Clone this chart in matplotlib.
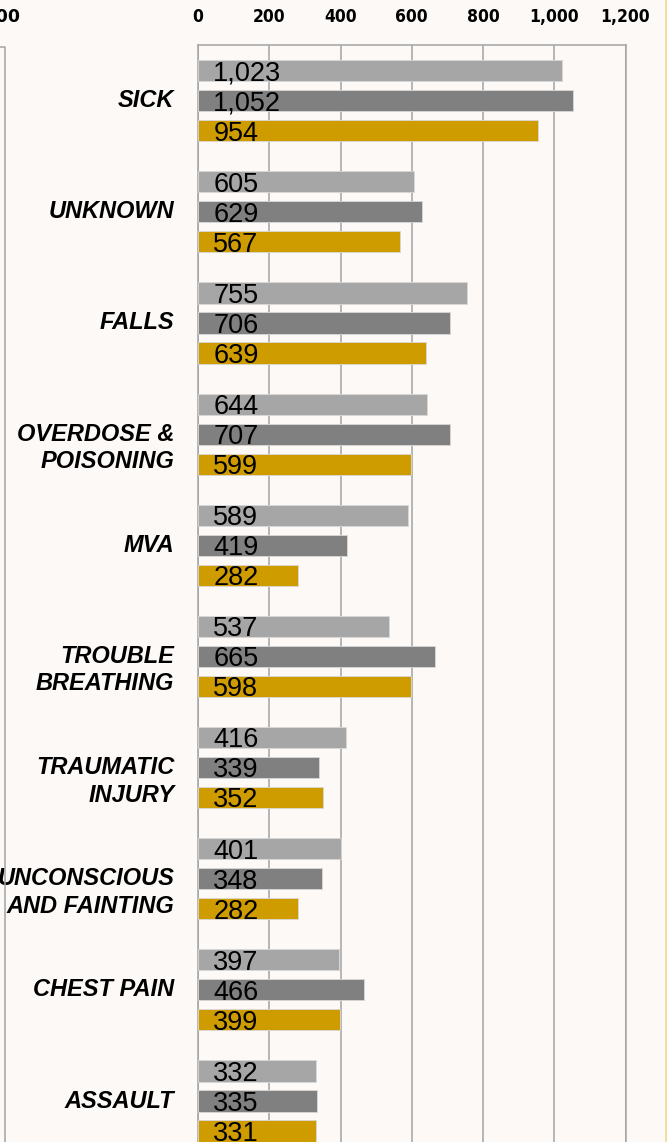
import numpy as np
import matplotlib
matplotlib.use('Agg')
import matplotlib.pyplot as plt
from matplotlib.lines import Line2D

categories = ['SICK', 'UNKNOWN', 'FALLS', 'OVERDOSE &\nPOISONING', 'MVA',
              'TROUBLE\nBREATHING', 'TRAUMATIC\nINJURY', 'UNCONSCIOUS\nAND FAINTING',
              'CHEST PAIN', 'ASSAULT']
series_a = [1023, 605, 755, 644, 589, 537, 416, 401, 397, 332]
series_b = [1052, 629, 706, 707, 419, 665, 339, 348, 466, 335]
series_c = [954, 567, 639, 599, 282, 598, 352, 282, 399, 331]
xticks = [0, 200, 400, 600, 800, 1000, 1200]
xtick_labels = ['0', '200', '400', '600', '800', '1,000', '1,200']

bg = '#fcf9f6'
colors = ['#a6a6a6', '#808080', '#cf9c00']
grid_col = '#a4a4a4'

W, H = 667, 1142
fig = plt.figure(figsize=(W / 100, H / 100), dpi=100, facecolor=bg)
ax = fig.add_axes([198 / W, 1 - 1156.6 / H, 427.5 / W, 1111.5 / H])
ax.set_facecolor(bg)

y = np.arange(len(categories))
bh = 0.19
offs = [-0.27, 0.0, 0.27]
for vals, off, col in zip([series_a, series_b, series_c], offs, colors):
    ax.barh(y + off, vals, height=bh, color=col, edgecolor='#d8d8d8', linewidth=0.6, zorder=3)
    for yi, v in zip(y, vals):
        ax.annotate(f'{v:,}', xy=(0, yi + off + bh / 2), xytext=(11, 0.5),
                    textcoords='offset points', ha='left', va='baseline',
                    fontsize=19.5, family='Liberation Sans', color='black', zorder=4)

# category labels (first line on group centre, following lines below)
for yi, lab in zip(y, categories):
    for k, line in enumerate(lab.split('\n')):
        ax.annotate(line, xy=(0, yi + k * 0.2475), xytext=(-17, 0),
                    textcoords='offset points', ha='right', va='center',
                    fontsize=17, family='Liberation Sans', fontweight='bold',
                    fontstyle='italic', annotation_clip=False)

ax.set_xlim(0, 1200)
ax.set_ylim(9.5, -0.5)
ax.set_yticks([])
ax.set_xticks(xticks)
ax.set_xticklabels(xtick_labels, fontsize=12.5, fontweight='bold', family='DejaVu Sans',
                   fontstretch='condensed')
ax.xaxis.set_ticks_position('top')
ax.tick_params(axis='x', length=0, pad=14)
ax.grid(axis='x', color=grid_col, linewidth=1.1, zorder=0)
ax.set_axisbelow(True)
for s in ax.spines.values():
    s.set_color(grid_col)
    s.set_linewidth(1.1)

# neighbouring chart edges
fig.text(20 / W, 1 - 17 / H, '1,200', ha='right', va='center', fontsize=12.5,
         fontweight='bold', family='DejaVu Sans')
fig.add_artist(Line2D([0, 4.5 / W, 4.5 / W], [1 - 47 / H, 1 - 47 / H, 0],
                      color=grid_col, linewidth=1.1))
fig.add_artist(Line2D([665.5 / W, 665.5 / W], [0, 1], color='#f0d890', linewidth=1.2))

fig.savefig('out.png', dpi=100, facecolor=bg)
